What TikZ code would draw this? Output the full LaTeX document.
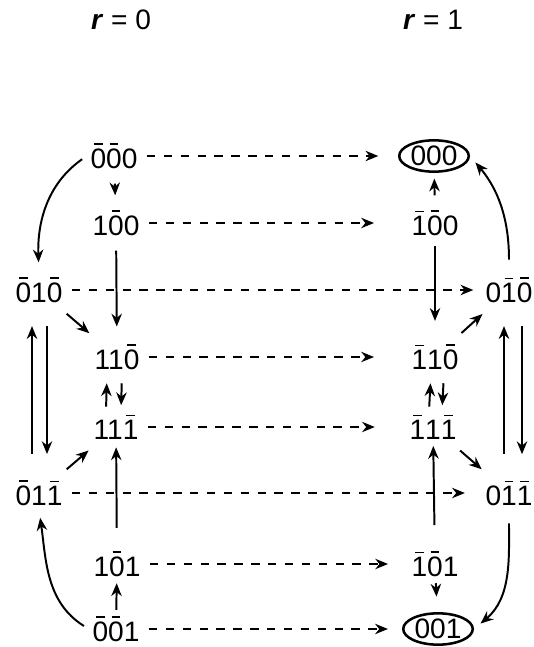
\documentclass[tikz,border=0pt]{standalone}
\usepackage{fontspec}
\setmainfont{Liberation Sans}
\usetikzlibrary{arrows.meta, calc, shapes.geometric}
\newcommand{\nb}[1]{\leavevmode\setbox0=\hbox{#1}\vbox{\offinterlineskip\hbox to\wd0{\hss\vrule width .55\wd0 height .6pt\hss}\kern1.3pt\box0}}

\begin{document}
\begin{tikzpicture}[x=0.0125cm, y=0.0125cm, >={Stealth[length=1.6mm, width=1.3mm]}, line width=0.7pt,
    st/.style={inner sep=1pt},
    fin/.style={draw, ellipse, inner sep=0.4pt, line width=0.9pt},
    tr/.style={->, shorten <=4pt, shorten >=4pt},
    cmp/.style={->, line width=0.6pt, dash pattern=on 3pt off 3pt, shorten <=2pt}]
  \useasboundingbox (0,0) rectangle (533,647);
  % encabezados
  \node (h0) at (121,627) {\textbf{\textit{r}} = 0};
  \node (h1) at (433,627) {\textbf{\textit{r}} = 1};
  % estados con r = 0
  \node[st] (a000) at (114,491) {\nb0\nb00};
  \node[st] (a100) at (116,424) {1\nb00};
  \node[st] (a010) at (39,357) {\nb01\nb0};
  \node[st] (a110) at (117,290) {11\nb0};
  \node[st] (a111) at (116,220) {11\nb1};
  \node[st] (a011) at (39,154) {\nb01\nb1};
  \node[st] (a101) at (117,83) {1\nb01};
  \node[st] (a001) at (116,18) {\nb0\nb01};
  % estados con r = 1
  \node[fin] (b000) at (434,491) {000};
  \node[st] (b100) at (435,424) {\nb1\nb00};
  \node[st] (b010) at (509,357) {0\nb1\nb0};
  \node[st] (b110) at (435,290) {\nb11\nb0};
  \node[st] (b111) at (433,220) {\nb11\nb1};
  \node[st] (b011) at (509,154) {0\nb1\nb1};
  \node[st] (b101) at (435,83) {\nb1\nb01};
  \node[fin] (b001) at (438,18) {001};
  % r = 0 -> r = 1
  \draw[cmp, shorten >=7pt] (a000) -- (b000);
  \draw[cmp, shorten >=12pt] (a100) -- (b100);
  \draw[cmp, shorten >=3pt] (a010) -- (b010);
  \draw[cmp, shorten >=12pt] (a110) -- (b110);
  \draw[cmp, shorten >=11pt] (a111) -- (b111);
  \draw[cmp, shorten >=6pt] (a011) -- (b011);
  \draw[cmp, shorten >=7pt] (a101) -- (b101);
  \draw[cmp, shorten >=5pt] (a001) -- (b001);
  % transiciones en r = 0
  \draw[tr] (a000) -- (a100);
  \draw[tr, shorten >=5pt] (a100) -- (a110);
  \draw[tr] (a010) -- (a110);
  \draw[tr] (a011) -- (a111);
  \draw[tr, shorten <=7pt, shorten >=1.5pt] (a101) -- (a111);
  \draw[tr, shorten <=1pt, shorten >=1pt] (a001) -- (a101);
  \draw[->, shorten <=1.5pt, shorten >=3.5pt] ($(a111.north)+(-10,0)$) -- ($(a110.south)+(-10,0)$);
  \draw[->, shorten <=3.5pt, shorten >=2pt] ($(a110.south)+(5,0)$) -- ($(a111.north)+(5,0)$);
  \draw[->, shorten <=8pt, shorten >=7pt] ($(a011.north)+(-7,0)$) -- ($(a010.south)+(-7,0)$);
  \draw[->, shorten <=7pt, shorten >=8pt] ($(a010.south)+(8,0)$) -- ($(a011.north)+(8,0)$);
  \draw[->, shorten <=2pt, shorten >=4pt] (a000.west) to[out=215, in=92] (a010.north);
  \draw[->, shorten <=2pt, shorten >=3pt] (a001.west) to[out=148, in=-82] (a011.south);
  % transiciones en r = 1
  \draw[tr, shorten >=2pt] (b100) -- (b000);
  \draw[tr, shorten <=2.5pt, shorten >=7pt] (b100) -- (b110);
  \draw[tr] (b110) -- (b010);
  \draw[tr] (b111) -- (b011);
  \draw[tr, shorten <=8pt, shorten >=1pt] (b101) -- (b111);
  \draw[tr, shorten <=1pt, shorten >=5.5pt] (b101) -- (b001);
  \draw[->, shorten <=1.5pt, shorten >=3.5pt] ($(b111.north)+(-4,0)$) -- ($(b110.south)+(-4,0)$);
  \draw[->, shorten <=3.5pt, shorten >=2pt] ($(b110.south)+(9,0)$) -- ($(b111.north)+(9,0)$);
  \draw[->, shorten <=8pt, shorten >=7pt] ($(b011.north)+(-5,0)$) -- ($(b010.south)+(-5,0)$);
  \draw[->, shorten <=7pt, shorten >=8pt] ($(b010.south)+(13,0)$) -- ($(b011.north)+(13,0)$);
  \draw[->, shorten <=5pt, shorten >=3pt] (b010.north) to[out=90, in=-50] (b000.east);
  \draw[->, shorten <=5pt, shorten >=3pt] (b011.south) to[out=-90, in=40] (b001.east);
\end{tikzpicture}
\end{document}
